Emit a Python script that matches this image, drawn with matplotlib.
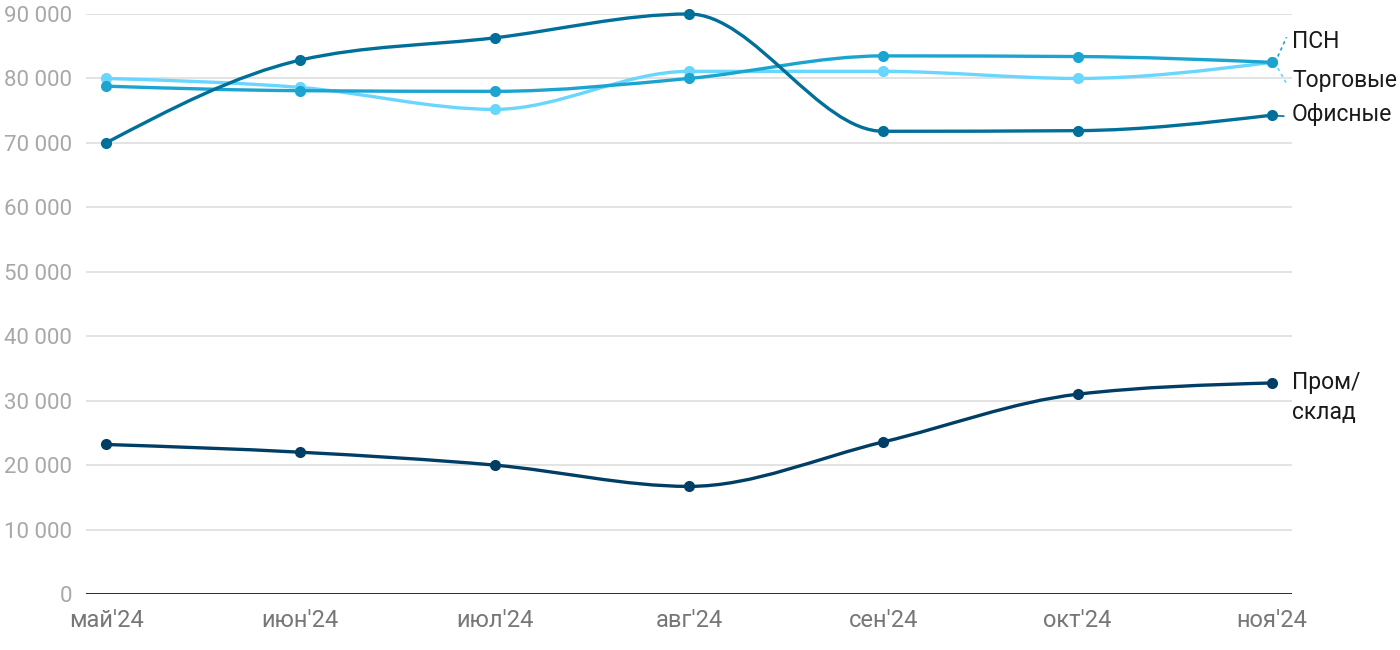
import numpy as np
import matplotlib
matplotlib.use("Agg")
import matplotlib.pyplot as plt
from matplotlib.path import Path
from matplotlib.patches import PathPatch

plt.rcParams['font.family'] = ['Roboto', 'DejaVu Sans']

# ------------------------------------------
# Data
# ------------------------------------------
months = ["май'24", "июн'24", "июл'24", "авг'24", "сен'24", "окт'24", "ноя'24"]

office = [70000, 82850, 86300, 90000, 71800, 71900, 74300]
psn = [78800, 78100, 78000, 80000, 83500, 83400, 82500]
retail = [80000, 78600, 75200, 81100, 81100, 80000, 82500]
industrial = [23200, 22000, 20000, 16700, 23600, 31000, 32750]

y_ticks = [0, 10000, 20000, 30000, 40000, 50000, 60000, 70000, 80000, 90000]

series = [
    ("Торговые", retail, "#69d6fd"),
    ("ПСН", psn, "#1ca4d1"),
    ("Офисные", office, "#006f99"),
    ("Пром/\nсклад", industrial, "#003e66"),
]


# ------------------------------------------
# Monotone-x smooth curve as a bezier path (like d3 curveMonotoneX)
# ------------------------------------------
def monotone_path(x, y):
    x = np.asarray(x, float)
    y = np.asarray(y, float)
    n = len(x)
    h = np.diff(x)
    s = np.diff(y) / h
    t = np.zeros(n)
    for i in range(1, n - 1):
        p = (s[i - 1] * h[i] + s[i] * h[i - 1]) / (h[i - 1] + h[i])
        t[i] = (np.sign(s[i - 1]) + np.sign(s[i])) * min(abs(s[i - 1]), abs(s[i]), 0.5 * abs(p))
    t[0] = (3 * s[0] - t[1]) / 2
    t[-1] = (3 * s[-1] - t[-2]) / 2
    verts = [(x[0], y[0])]
    codes = [Path.MOVETO]
    for i in range(n - 1):
        dx = h[i] / 3
        verts += [(x[i] + dx, y[i] + dx * t[i]),
                  (x[i + 1] - dx, y[i + 1] - dx * t[i + 1]),
                  (x[i + 1], y[i + 1])]
        codes += [Path.CURVE4] * 3
    return Path(verts, codes)


fig = plt.figure(figsize=(14, 6.5), dpi=100)
ax = fig.add_axes([86 / 1400, 56 / 650, (1292 - 86) / 1400, (594 - 14) / 650])

x = np.arange(len(months))

for name, vals, color in series:
    patch = PathPatch(monotone_path(x, vals), facecolor='none', edgecolor=color,
                      lw=2.4, capstyle='round', joinstyle='round', clip_on=False, zorder=3)
    ax.add_patch(patch)
    ax.plot(x, vals, 'o', color=color, ms=7, clip_on=False, zorder=4)

ax.set_xlim(-0.103, 6.103)
ax.set_ylim(0, 90000)

# grid + baseline
for yt in y_ticks[1:]:
    ax.axhline(yt, color='#e3e3e3', lw=1.4, zorder=1)
ax.axhline(0, color='#1a1a1a', lw=2.0, zorder=2)

for sp in ax.spines.values():
    sp.set_visible(False)

ax.set_yticks(y_ticks)
ax.set_yticklabels([f"{v:,}".replace(",", " ") for v in y_ticks])
ax.set_xticks(x)
ax.set_xticklabels(months)
ax.tick_params(axis='y', length=0, pad=10, labelsize=16, labelcolor='#a8a8a8')
ax.tick_params(axis='x', length=0, pad=11, labelsize=17, labelcolor='#777777')

# right-side labels with leader lines
lx = 6.103
label_y = {"ПСН": 85700, "Торговые": 79750, "Офисные": 74350, "Пром/\nсклад": 30500}
for name, vals, color in series:
    ax.text(lx, label_y[name], name, fontsize=16.5, color='#1a1a1a', va='center', ha='left',
            linespacing=1.4, clip_on=False)

ax.plot([6.03, 6.075], [psn[-1] + 900, 86400], ls=(0, (2, 2)), color=series[1][2], lw=1.2, clip_on=False)
ax.plot([6.03, 6.075], [retail[-1] - 900, 79200], ls=(0, (2, 2)), color=series[0][2], lw=1.2, clip_on=False)
ax.plot([6.03, 6.06], [office[-1] - 100, office[-1] - 150], color=series[2][2], lw=1.2, clip_on=False)

fig.savefig("out.png", dpi=100)
